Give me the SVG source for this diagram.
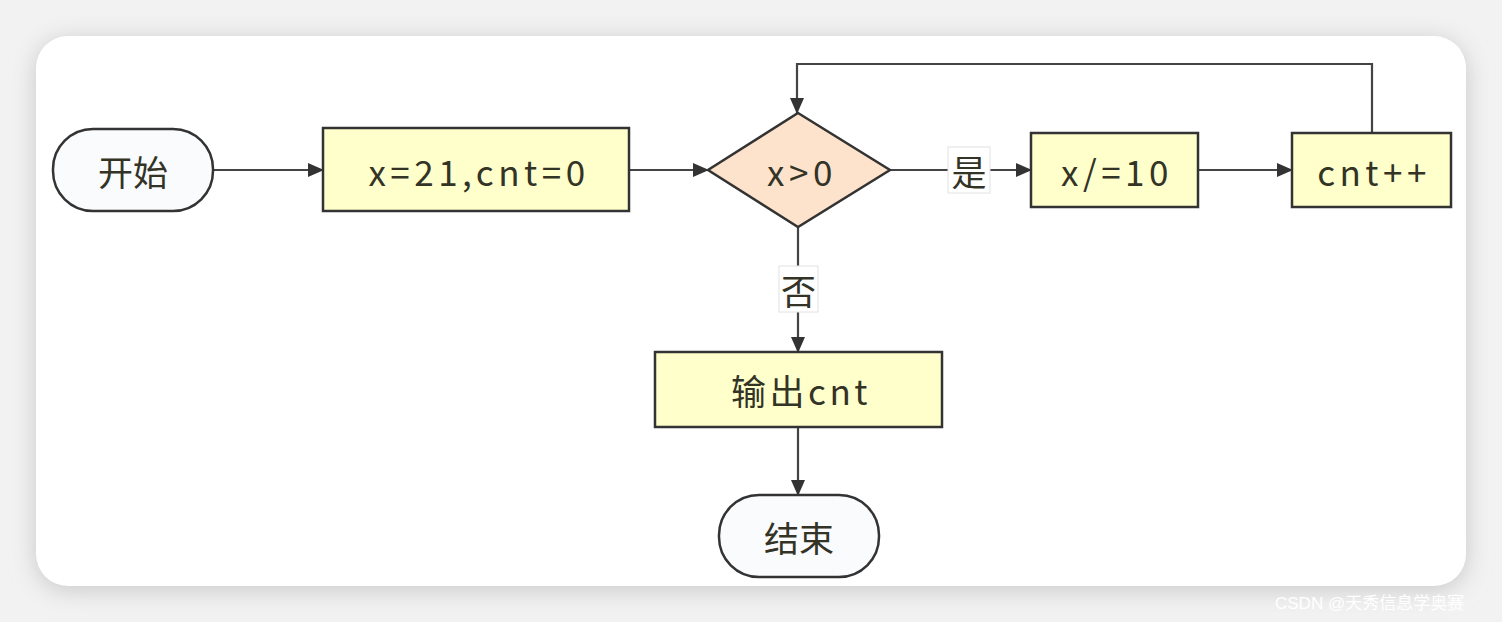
<svg xmlns="http://www.w3.org/2000/svg" width="1502" height="622" viewBox="0 0 1502 622">
  <style>
    .t { font-family: "Noto Sans CJK SC", "Noto Sans", sans-serif; font-size: 35px; fill: #333326; text-anchor: middle; dominant-baseline: central; }
    .ls { letter-spacing: 4.5px; }
    .ls2 { letter-spacing: 3.5px; }
    .box { fill: #ffffcc; stroke: #333333; stroke-width: 2.5; }
    .term { fill: #f9fbfd; stroke: #333333; stroke-width: 2.5; }
    .dia { fill: #fde2cc; stroke: #333333; stroke-width: 2.5; }
    .edge { fill: none; stroke: #444444; stroke-width: 2.2; }
    .lbg { fill: #ffffff; stroke: #e2e2e2; stroke-width: 1; }
  </style>
  <defs>
    <filter id="sh" x="-5%" y="-10%" width="110%" height="120%">
      <feGaussianBlur stdDeviation="12"/>
    </filter>
    <marker id="arr" markerUnits="userSpaceOnUse" markerWidth="16" markerHeight="14" refX="15" refY="7" orient="auto">
      <path d="M0,0 L16,7 L0,14 Z" fill="#333333"/>
    </marker>
  </defs>
  <rect x="0" y="0" width="1502" height="622" fill="#f2f2f2"/>
  <rect x="36" y="40" width="1430" height="550" rx="32" fill="#c8c8c8" filter="url(#sh)"/>
  <rect x="36" y="36" width="1430" height="550" rx="32" fill="#ffffff"/>
  <text x="1275" y="603" style="font-family:'Liberation Sans','Noto Sans CJK SC',sans-serif;font-size:17px;fill:#ffffff;dominant-baseline:central">CSDN @天秀信息学奥赛</text>

  <g id="connectors">
    <path class="edge" d="M213,170 H323" marker-end="url(#arr)"/>
    <path class="edge" d="M629,170 H708" marker-end="url(#arr)"/>
    <path class="edge" d="M890,170 H1031" marker-end="url(#arr)"/>
    <path class="edge" d="M1198,170 H1292" marker-end="url(#arr)"/>
    <path class="edge" d="M1372,133 V64 H797 V113" marker-end="url(#arr)"/>
    <path class="edge" d="M798,227 V352" marker-end="url(#arr)"/>
    <path class="edge" d="M798,427 V495" marker-end="url(#arr)"/>
    <g id="label-yes">
      <rect class="lbg" x="948" y="147" width="42" height="46"/>
      <text class="t" x="969" y="170">是</text>
    </g>
    <g id="label-no">
      <rect class="lbg" x="779" y="266" width="39" height="46"/>
      <text class="t" x="798.5" y="289">否</text>
    </g>
  </g>

  <g id="start">
    <rect class="term" x="53" y="129" width="160" height="82" rx="40" ry="40"/>
    <text class="t" x="133" y="170">开始</text>
  </g>
  <g id="init">
    <rect class="box" x="323" y="128" width="306" height="83"/>
    <text class="t ls" x="479" y="170">x=21,cnt=0</text>
  </g>
  <g id="cond">
    <polygon class="dia" points="798,113 890,170 798,227 708,170"/>
    <text class="t ls" x="802" y="170">x&gt;0</text>
  </g>
  <g id="div">
    <rect class="box" x="1031" y="133" width="167" height="74"/>
    <text class="t ls" x="1117" y="170">x/=10</text>
  </g>
  <g id="inc">
    <rect class="box" x="1292" y="133" width="159" height="74"/>
    <text class="t ls" x="1374" y="170">cnt++</text>
  </g>
  <g id="output">
    <rect class="box" x="655" y="352" width="287" height="75"/>
    <text class="t ls2" x="801" y="389">输出cnt</text>
  </g>
  <g id="end">
    <rect class="term" x="719" y="495" width="160" height="82" rx="40" ry="40"/>
    <text class="t" x="799" y="536">结束</text>
  </g>
</svg>
